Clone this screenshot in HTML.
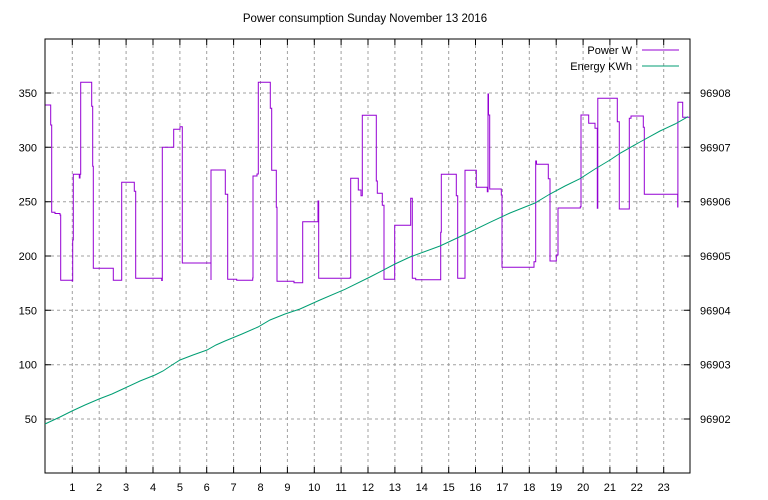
<!DOCTYPE html>
<html><head><meta charset="utf-8"><style>
body{margin:0;background:#fff}
svg{display:block;font-family:"Liberation Sans","DejaVu Sans",sans-serif;font-size:11px}
</style></head><body>
<svg width="768" height="500" viewBox="0 0 768 500" xmlns="http://www.w3.org/2000/svg">
<rect width="768" height="500" fill="#fff"/>
<text x="365" y="22" text-anchor="middle" font-size="11.5">Power consumption Sunday November 13 2016</text>
<g stroke="#a0a0a0" stroke-width="1" stroke-dasharray="3,3">
<line x1="72.3" y1="39" x2="72.3" y2="473"/><line x1="99.2" y1="39" x2="99.2" y2="473"/><line x1="126.1" y1="39" x2="126.1" y2="473"/><line x1="153" y1="39" x2="153" y2="473"/><line x1="179.9" y1="39" x2="179.9" y2="473"/><line x1="206.7" y1="39" x2="206.7" y2="473"/><line x1="233.6" y1="39" x2="233.6" y2="473"/><line x1="260.5" y1="39" x2="260.5" y2="473"/><line x1="287.4" y1="39" x2="287.4" y2="473"/><line x1="314.3" y1="39" x2="314.3" y2="473"/><line x1="341.1" y1="39" x2="341.1" y2="473"/><line x1="368" y1="39" x2="368" y2="473"/><line x1="394.9" y1="39" x2="394.9" y2="473"/><line x1="421.8" y1="39" x2="421.8" y2="473"/><line x1="448.7" y1="39" x2="448.7" y2="473"/><line x1="475.5" y1="39" x2="475.5" y2="473"/><line x1="502.4" y1="39" x2="502.4" y2="473"/><line x1="529.3" y1="39" x2="529.3" y2="473"/><line x1="556.2" y1="39" x2="556.2" y2="473"/><line x1="583.1" y1="39" x2="583.1" y2="473"/><line x1="609.9" y1="39" x2="609.9" y2="473"/><line x1="636.8" y1="39" x2="636.8" y2="473"/><line x1="663.7" y1="39" x2="663.7" y2="473"/>
<line x1="45" y1="419" x2="690" y2="419"/><line x1="45" y1="364.7" x2="690" y2="364.7"/><line x1="45" y1="310.3" x2="690" y2="310.3"/><line x1="45" y1="256" x2="690" y2="256"/><line x1="45" y1="201.7" x2="690" y2="201.7"/><line x1="45" y1="147.3" x2="690" y2="147.3"/><line x1="45" y1="93" x2="690" y2="93"/>
</g>
<g stroke="#000" stroke-width="1">
<path d="M72.3 473v-6M72.3 39v6M99.2 473v-6M99.2 39v6M126.1 473v-6M126.1 39v6M153 473v-6M153 39v6M179.9 473v-6M179.9 39v6M206.7 473v-6M206.7 39v6M233.6 473v-6M233.6 39v6M260.5 473v-6M260.5 39v6M287.4 473v-6M287.4 39v6M314.3 473v-6M314.3 39v6M341.1 473v-6M341.1 39v6M368 473v-6M368 39v6M394.9 473v-6M394.9 39v6M421.8 473v-6M421.8 39v6M448.7 473v-6M448.7 39v6M475.5 473v-6M475.5 39v6M502.4 473v-6M502.4 39v6M529.3 473v-6M529.3 39v6M556.2 473v-6M556.2 39v6M583.1 473v-6M583.1 39v6M609.9 473v-6M609.9 39v6M636.8 473v-6M636.8 39v6M663.7 473v-6M663.7 39v6"/>
<path d="M45 419h6M45 364.7h6M45 310.3h6M45 256h6M45 201.7h6M45 147.3h6M45 93h6M690 419h-6M690 364.7h-6M690 310.3h-6M690 256h-6M690 201.7h-6M690 147.3h-6M690 93h-6"/>
</g>
<rect x="45" y="39" width="645" height="434" fill="none" stroke="#000" stroke-width="1"/>
<g text-anchor="end">
<text x="37" y="423">50</text><text x="37" y="368.7">100</text><text x="37" y="314.3">150</text><text x="37" y="260">200</text><text x="37" y="205.7">250</text><text x="37" y="151.3">300</text><text x="37" y="97">350</text>
</g>
<g text-anchor="start">
<text x="700" y="423">96902</text><text x="700" y="368.7">96903</text><text x="700" y="314.3">96904</text><text x="700" y="260">96905</text><text x="700" y="205.7">96906</text><text x="700" y="151.3">96907</text><text x="700" y="97">96908</text>
</g>
<g text-anchor="middle">
<text x="72.3" y="491">1</text><text x="99.2" y="491">2</text><text x="126.1" y="491">3</text><text x="153" y="491">4</text><text x="179.9" y="491">5</text><text x="206.7" y="491">6</text><text x="233.6" y="491">7</text><text x="260.5" y="491">8</text><text x="287.4" y="491">9</text><text x="314.3" y="491">10</text><text x="341.1" y="491">11</text><text x="368" y="491">12</text><text x="394.9" y="491">13</text><text x="421.8" y="491">14</text><text x="448.7" y="491">15</text><text x="475.5" y="491">16</text><text x="502.4" y="491">17</text><text x="529.3" y="491">18</text><text x="556.2" y="491">19</text><text x="583.1" y="491">20</text><text x="609.9" y="491">21</text><text x="636.8" y="491">22</text><text x="663.7" y="491">23</text>
</g>
<polyline fill="none" stroke="#9400d3" stroke-width="1" points="45.5,105 50.7,105 50.7,125 51.7,125 51.7,212.3 55,212.3 55,213.5 60,213.5 60,215 60.7,215 60.7,280.3 72.3,280.3 72.3,281 72.7,281 72.7,240 73.3,240 73.3,174.3 79.3,174.3 79.3,178 80,178 80,174.3 80.7,174.3 80.7,82.3 91.7,82.3 91.7,106.3 92.7,106.3 92.7,166.3 93.3,166.3 93.3,268.3 113.3,268.3 113.3,280.3 121.7,280.3 121.7,182.3 134.3,182.3 134.3,191.3 135.7,191.3 135.7,278.3 161.7,278.3 161.7,280.5 162.3,280.5 162.3,147.3 173.7,147.3 173.7,129.3 180,129.3 180,126.7 182.3,126.7 182.3,263 211,263 211,280 211,170 225.3,170 225.3,194.3 227.7,194.3 227.7,279.3 236.7,279.3 236.7,280.3 252.7,280.3 252.7,278 253,278 253,176 257,176 257,174 258.3,174 258.3,82.3 270.3,82.3 270.3,108.3 271.7,108.3 271.7,170.3 276.3,170.3 276.3,207.3 277,207.3 277,281.3 294,281.3 294,282.7 302.7,282.7 302.7,221.7 318,221.7 318,201 318.7,201 318.7,278.3 349.7,278.3 349.7,278 350.7,278 350.7,178.3 358.3,178.3 358.3,190 361,190 361,195.7 362.3,195.7 362.3,115.3 376.3,115.3 376.3,181 377.3,181 377.3,193.3 382.3,193.3 382.3,205.3 384,205.3 384,279.3 394.7,279.3 394.7,225.3 410.7,225.3 410.7,198.3 412.3,198.3 412.3,278.3 415.7,278.3 415.7,279.7 440.7,279.7 440.7,232.3 441.3,232.3 441.3,174.3 456.3,174.3 456.3,195.7 457.7,195.7 457.7,278.3 465,278.3 465,170.3 476.3,170.3 476.3,187.3 487.3,187.3 487.3,191.7 488,191.7 488,94 488.5,94 488.5,115 489.7,115 489.7,189 501.3,189 501.3,195 502,195 502,267.3 534,267.3 534,261.7 535.7,261.7 535.7,161 536.5,161 536.5,164.3 548.3,164.3 548.3,178.7 550,178.7 550,261 556.3,261 556.3,255 558,255 558,208 580.3,208 580.3,206.7 581,206.7 581,115 588.7,115 588.7,123.3 595,123.3 595,128.3 597.3,128.3 597.3,208.3 597.8,208.3 597.8,98.3 617.3,98.3 617.3,121.7 619.3,121.7 619.3,209 629.3,209 629.3,118.3 631,118.3 631,116 643.3,116 643.3,127.3 644.3,127.3 644.3,194.3 677.7,194.3 677.7,207 677.9,207 677.9,102.3 682.7,102.3 682.7,117.3 690,117.3"/>
<polyline fill="none" stroke="#009e73" stroke-width="1" points="45,424 60,417 72,411 85,405 99,399 112,394 125,388 140,381 155,375 163,371 172,365 180,360 193,355 207,350 216,345 225,341 242,334 258,327 270,320 285,314 300,309 320,300 345,289.3 370,277 395,264 410,257 440,246 470,232 490,222.3 510,213 535,203 550,194 565,186 580,178.7 595,169 610,160 620,153.3 640,142 660,131 675,124 688,116.7"/>
<text x="632" y="54" text-anchor="end">Power W</text>
<line x1="642" y1="50" x2="679" y2="50" stroke="#9400d3" stroke-width="1"/>
<text x="632" y="70" text-anchor="end">Energy KWh</text>
<line x1="642" y1="66" x2="679" y2="66" stroke="#009e73" stroke-width="1"/>
</svg>
</body></html>
